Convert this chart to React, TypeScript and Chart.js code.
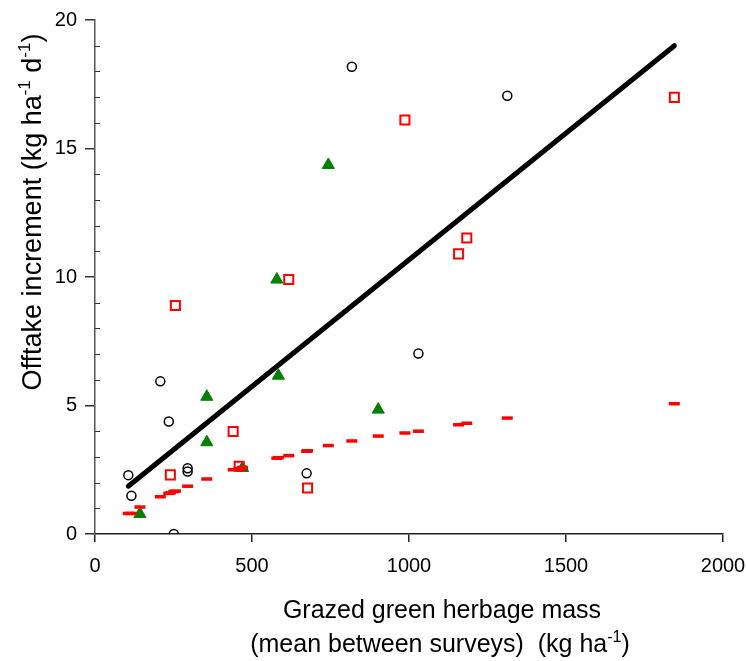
import React, { useEffect, useRef } from "react";
import { Chart, registerables } from "chart.js";

Chart.register(...registerables);

const circleX = [106, 116, 208, 235, 295, 295, 251, 674, 818, 1313, 1030];
const circleY = [2.29, 1.49, 5.94, 4.38, 2.56, 2.43, 0, 2.36, 18.18, 17.05, 7.02];

const triangleX = [143, 356, 356, 470, 584, 579, 902, 743];
const triangleY = [0.78, 5.34, 3.57, 2.57, 6.16, 9.9, 4.84, 14.36];

const squareX = [256, 617, 240, 440, 459, 677, 987, 1184, 1158, 1845];
const squareY = [8.89, 9.9, 2.3, 3.99, 2.64, 1.79, 16.11, 11.52, 10.9, 16.99];

// Predicted values (red dashes)
const dashX = [106, 116, 143, 208, 235, 240, 251, 256, 295, 356, 440, 459, 470, 579, 584, 617, 674, 677, 743, 818, 902, 987, 1030, 1158, 1184, 1313, 1845];
const dashY = [0.8, 0.8, 1.05, 1.45, 1.58, 1.6, 1.65, 1.67, 1.86, 2.14, 2.5, 2.55, 2.59, 2.95, 2.97, 3.05, 3.22, 3.24, 3.44, 3.62, 3.81, 3.93, 4.0, 4.25, 4.31, 4.51, 5.07];

// Regression line
const lineX = [106, 1845];
const lineY = [1.86, 19.0];

// Axes
const xMin = 0, xMax = 2000, xStep = 500;
const yMin = 0, yMax = 20, yStep = 5;
const yMinorTickValues = [1, 2, 3, 4, 6, 7, 8, 9, 11, 12, 13, 14, 16, 17, 18, 19];

const yTitleParts = [
  { t: "Offtake increment (kg ha" },
  { t: "-1", sup: true },
  { t: " d" },
  { t: "-1", sup: true },
  { t: ")" },
];
const xTitleLine1 = [{ t: "Grazed green herbage mass" }];
const xTitleLine2 = [
  { t: "(mean between surveys)  (kg ha" },
  { t: "-1", sup: true },
  { t: ")" },
];

const SANS = "'Liberation Sans', Arial, sans-serif";

type Part = { t: string; sup?: boolean };

function drawRich(ctx: CanvasRenderingContext2D, parts: Part[], x: number, y: number, size: number) {
  const supSize = Math.round(size * 0.62);
  const widths = parts.map((p) => {
    ctx.font = `${p.sup ? supSize : size}px ${SANS}`;
    return ctx.measureText(p.t).width;
  });
  const total = widths.reduce((a, b) => a + b, 0);
  let cx = x - total / 2;
  ctx.textAlign = "left";
  ctx.textBaseline = "alphabetic";
  parts.forEach((p, i) => {
    ctx.font = `${p.sup ? supSize : size}px ${SANS}`;
    ctx.fillText(p.t, cx, p.sup ? y - size * 0.4 : y);
    cx += widths[i];
  });
}

const extrasPlugin = {
  id: "extras",
  afterDraw(chart: any) {
    const ctx: CanvasRenderingContext2D = chart.ctx;
    const area = chart.chartArea;
    const yScale = chart.scales.y;
    ctx.save();
    // minor ticks on y axis (inward)
    ctx.strokeStyle = "#333";
    ctx.lineWidth = 1;
    ctx.beginPath();
    for (const v of yMinorTickValues) {
      const py = Math.round(yScale.getPixelForValue(v)) + 0.5;
      ctx.moveTo(area.left, py);
      ctx.lineTo(area.left + 5, py);
    }
    ctx.stroke();

    ctx.fillStyle = "#000";
    // y title
    ctx.save();
    ctx.translate(41, 212);
    ctx.rotate(-Math.PI / 2);
    drawRich(ctx, yTitleParts, 0, 0, 27);
    ctx.restore();

    // x title
    drawRich(ctx, xTitleLine1, 442, 618, 25);
    drawRich(ctx, xTitleLine2, 440, 652, 25);
    ctx.restore();
  },
};

export default function App() {
  const ref = useRef<HTMLCanvasElement | null>(null);
  useEffect(() => {
    document.body.style.margin = "0";
    const canvas = ref.current!;
    const toPts = (xs: number[], ys: number[]) => xs.map((x, i) => ({ x, y: ys[i] }));
    const tickFont = { family: SANS, size: 20 };
    const plain = (v: any) => String(v);
    const chart = new Chart(canvas, {
      type: "scatter",
      data: {
        datasets: [
          {
            label: "Predicted",
            data: toPts(dashX, dashY),
            pointStyle: "line",
            pointRadius: 5.5,
            borderWidth: 3.5,
            borderColor: "#ff0000",
            backgroundColor: "#ff0000",
          },
          {
            label: "Circles",
            data: toPts(circleX, circleY),
            pointStyle: "circle",
            pointRadius: 4.5,
            borderWidth: 1.5,
            borderColor: "#000",
            backgroundColor: "rgba(255,255,255,0)",
          },
          {
            label: "Squares",
            data: toPts(squareX, squareY),
            pointStyle: "rect",
            pointRadius: 6.4,
            borderWidth: 2,
            borderColor: "#ff0000",
            backgroundColor: "rgba(255,255,255,0)",
          },
          {
            label: "Triangles",
            data: toPts(triangleX, triangleY),
            pointStyle: "triangle",
            pointRadius: 7,
            borderWidth: 1,
            borderColor: "#008000",
            backgroundColor: "#008000",
          },
          {
            label: "Fit",
            data: toPts(lineX, lineY),
            showLine: true,
            pointRadius: 0,
            borderWidth: 5,
            borderColor: "#000",
            borderCapStyle: "round",
          } as any,
        ],
      },
      options: {
        responsive: false,
        animation: false,
        devicePixelRatio: 1,
        layout: { padding: { top: 18, right: 23, left: 0, bottom: 0 } },
        plugins: { legend: { display: false }, tooltip: { enabled: false } },
        scales: {
          x: {
            type: "linear",
            min: xMin,
            max: xMax,
            ticks: { stepSize: xStep, color: "#000", font: tickFont, padding: 12, maxRotation: 0, callback: plain },
            grid: { drawOnChartArea: false, drawTicks: true, tickLength: 8, color: "#222", lineWidth: 1.5 },
            border: { color: "#222", width: 1.5 },
            afterFit(s: any) {
              s.height = 127;
              s.paddingRight = 0;
              s.paddingLeft = 0;
            },
          },
          y: {
            type: "linear",
            min: yMin,
            max: yMax,
            ticks: { stepSize: yStep, color: "#000", font: tickFont, padding: 8, callback: plain },
            grid: { drawOnChartArea: false, drawTicks: true, tickLength: 10, color: "#333", lineWidth: 1.5 },
            border: { color: "#555", width: 1.5 },
            afterFit(s: any) {
              s.width = 95;
            },
          },
        },
      },
      plugins: [extrasPlugin],
    } as any);
    return () => chart.destroy();
  }, []);
  return (
    <div style={{ width: 746, height: 661 }}>
      <canvas ref={ref} width={746} height={661} style={{ display: "block", width: 746, height: 661 }} />
    </div>
  );
}
